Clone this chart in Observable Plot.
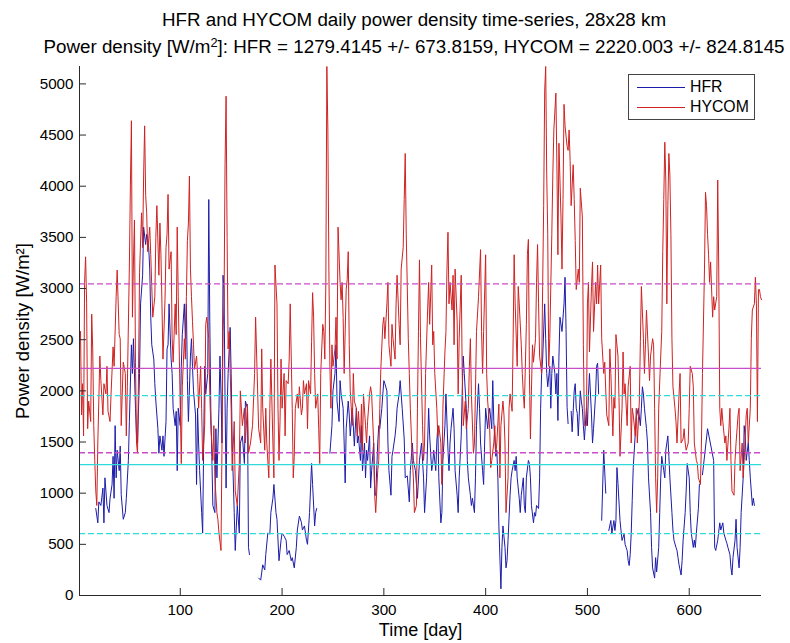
<!DOCTYPE html>
<html>
<head>
<meta charset="utf-8">
<script src="https://cdn.jsdelivr.net/npm/d3@7"></script>
<script src="https://cdn.jsdelivr.net/npm/@observablehq/plot@0.6"></script>
<style>
  html, body { margin: 0; padding: 0; background: #fff; }
  #wrap { position: relative; width: 790px; height: 643px; background: #fff;
          font-family: "Liberation Sans", Arial, Helvetica, sans-serif; color: #000; overflow: hidden; }
  #title { position: absolute; top: 6px; left: 38px; width: 752px; text-align: center;
           font-size: 18.8px; line-height: 27px; white-space: nowrap; }
  #title .sup { font-size: 0.68em; vertical-align: 0.5em; line-height: 0; }
  #chart { position: absolute; top: 61px; left: 0; }
  #legend { position: absolute; left: 628px; top: 74px; width: 125px; height: 44px;
            border: 1px solid #444; background: #fff; font-size: 15.8px; line-height: 1; }
  #legend .sw { position: absolute; left: 8px; width: 48px; height: 0; }
  #legend .lab { position: absolute; left: 61px; white-space: nowrap; }
</style>
</head>
<body>
<div id="wrap">
  <div id="title">HFR and HYCOM daily power density time-series, 28x28 km<br>Power density [W/m<span class="sup">2</span>]: HFR = 1279.4145 +/- 673.8159, HYCOM = 2220.003 +/- 824.8145</div>
  <div id="chart"></div>
  <div id="legend"></div>
</div>
<script>
// ---- data ----
const hfrDays = [17,19,20,22,24,25,26,28,30,31,33,34,35,36,37,38,40,41,42,44,46,47,49,50,52,53,54,56,57,58,60,61,63,64,66,67,69,70,71,72,74,75,76,78,79,80,82,83,84,86,87,88,89,91,92,93,95,96,97,98,100,101,102,104,105,106,107,108,110,111,112,113,115,116,117,118,119,121,122,123,124,125,127,128,129,130,131,132,134,135,136,138,139,140,141,142,143,144,145,146,147,149,150,151,153,154,156,158,159,161,163,164,166,167,168,
  172,
  177,179,181,183,184,186,188,189,191,192,194,195,197,199,200,202,204,205,207,209,210,212,214,215,217,219,220,222,224,225,227,229,230,232,233,234,
  240,
  247,249,250,252,253,254,256,257,258,260,261,262,263,265,266,267,269,270,271,273,274,275,277,278,279,281,282,283,284,286,287,288,290,291,292,294,295,296,298,299,300,301,303,304,305,307,308,309,311,312,313,315,316,317,318,320,321,323,325,326,328,329,331,333,335,337,339,340,342,344,345,347,348,349,351,352,353,354,356,357,358,360,361,363,364,365,366,368,369,370,372,373,374,376,377,378,379,381,382,383,385,386,387,389,390,391,393,394,395,397,398,399,400,402,403,404,406,407,408,410,411,412,413,415,416,417,419,420,421,422,424,425,426,428,429,430,431,433,434,435,437,438,439,440,442,443,444,445,447,448,449,450,452,453,454,455,456,458,459,460,461,463,464,465,466,468,469,470,471,472,473,475,477,478,479,480,481,
  482,
  484,485,487,488,489,490,491,493,494,495,496,497,499,500,501,502,504,505,506,508,509,510,511,
  512,
  514,516,518,
  519,
  521,523,524,526,527,528,529,530,532,533,534,536,537,538,539,540,541,542,543,544,545,547,548,550,552,553,554,555,556,558,559,560,562,563,564,566,567,568,570,571,572,573,575,576,577,579,580,581,583,584,585,587,588,589,590,592,593,594,596,597,598,600,601,602,604,605,606,607,609,610,611,613,
  618,
  624,625,626,628,630,631,633,634,636,637,638,640,641,642,643,645,646,647,649,650,651,653,654,655,656,658,659,660,662,663,664,666,667];
const hfrPower = [850,710,915,880,1050,710,1150,880,810,950,1085,1360,950,1660,1150,1420,1220,1460,985,745,810,950,1320,1700,2450,2170,2510,1830,1560,1490,2170,2850,3130,3600,3430,3530,3400,3190,2720,2450,2310,2070,1900,1630,1390,1560,1420,1560,1360,1700,2410,2450,2850,2310,2170,1830,1660,1800,1220,1830,1660,2240,2550,2850,2510,2850,2100,1700,2340,2510,2240,2000,1765,1085,1830,1490,1220,810,610,1490,2240,1970,2170,3870,2680,1830,1360,880,810,1630,1150,1830,2340,1970,1490,3130,2990,1900,1050,1830,2170,2620,2170,1490,810,440,880,610,1490,1560,1290,1900,1830,470,400,
  null,
  170,150,300,250,400,610,600,810,950,1085,810,745,340,540,610,580,540,400,440,340,370,270,470,640,775,715,640,680,540,500,810,1290,1085,680,810,850,
  null,
  1390,1660,2000,2170,2450,1900,1700,2100,1970,1830,1490,1100,1630,1900,1765,1560,1830,1660,1460,1830,1490,1560,1320,1660,1220,1490,1150,1420,1320,1560,1050,1220,1490,980,980,1490,1660,1630,1830,1970,2100,2070,2000,1490,1220,980,1360,1420,1560,1660,1830,1970,2100,1970,1830,1530,1150,1170,915,1220,1490,1320,1220,950,1320,1490,1150,810,1150,1830,1560,1220,1290,1420,1220,1490,1660,1150,710,810,1320,1660,1970,1420,1220,1490,1630,1830,1630,1220,980,810,1150,1560,2000,2340,2170,1830,1320,1150,980,880,950,810,1150,1660,2070,1830,1490,1220,1085,1490,1830,1630,1765,1830,1630,2100,1700,1360,1420,1150,680,65,470,680,470,270,340,540,980,1150,1220,1320,1220,1360,1150,950,810,980,1150,880,810,1150,1320,1290,1150,880,710,810,775,880,850,1150,1830,2170,2310,2850,2510,2170,2040,2240,1830,2170,2340,2170,1970,2170,1710,2330,2720,2580,2850,3110,2600,1840,1680,
  null,
  1800,1600,2000,2070,1830,1780,1560,2000,1900,1830,1660,1520,1830,1660,1970,2170,1765,1490,1630,1970,2240,2270,1970,
  null,
  735,1420,1000,
  null,
  635,733,605,733,635,733,1250,1095,733,635,538,600,500,470,440,342,293,400,605,929,1251,1580,1740,1830,1660,1830,2040,1970,1830,1630,1490,1150,810,470,270,170,370,230,470,810,1150,1360,1220,1150,1420,1560,1360,1150,810,640,540,470,440,370,300,200,340,540,810,1020,1290,1150,810,610,470,540,470,610,850,1085,
  null,
  1180,1630,1320,470,440,540,710,640,710,610,540,510,470,400,270,200,370,540,745,470,270,470,810,1150,1660,1560,1320,1490,1320,1150,880,950,880];

const hycomDays = [2,3,4,5,6,7,8,9,10,12,13,14,15,16,17,18,19,21,22,24,25,27,28,29,31,32,34,35,37,38,40,41,42,44,46,47,48,50,51,52,53,54,55,56,57,58,59,60,62,63,64,65,66,67,68,70,71,72,73,75,76,77,79,80,81,82,83,85,86,87,88,89,91,92,93,95,96,97,98,99,100,101,102,104,105,106,107,108,109,110,111,112,113,114,116,117,118,120,121,122,124,125,126,128,129,130,132,133,134,136,137,138,140,141,142,143,144,145,146,147,148,150,151,153,154,156,158,159,161,163,164,166,167,169,171,173,174,176,177,179,180,181,183,184,185,187,188,189,191,192,193,195,196,197,198,199,200,202,203,204,206,207,208,210,211,212,213,215,216,217,219,220,221,222,224,225,226,228,229,230,231,232,233,235,236,237,238,240,241,242,243,244,245,246,247,248,249,250,252,253,254,255,257,258,259,260,261,263,264,265,266,267,269,270,271,273,274,275,277,278,279,280,282,283,284,286,287,288,290,291,292,294,295,296,297,299,300,301,303,304,305,307,308,309,311,312,313,315,316,317,319,320,321,322,324,325,326,328,329,330,332,333,334,335,336,338,339,340,341,343,344,345,347,348,349,350,352,353,354,356,357,358,360,361,362,363,364,365,367,368,369,370,372,373,374,376,377,378,380,381,383,384,385,386,388,389,390,391,393,395,396,397,398,400,401,402,404,405,406,408,409,410,411,413,414,415,417,418,419,420,422,423,424,426,427,428,429,431,432,433,435,436,437,438,440,441,442,443,444,445,446,447,449,450,451,452,453,455,456,457,458,459,460,461,462,463,465,466,467,469,470,471,472,474,475,476,477,478,480,481,482,483,484,486,487,488,489,491,492,493,495,496,497,499,500,501,502,504,505,506,508,509,510,511,513,514,516,517,518,519,521,522,523,525,526,527,528,530,531,532,534,535,536,537,539,540,542,543,544,545,547,548,549,551,552,553,555,556,557,558,560,561,562,564,565,566,567,568,569,570,572,573,574,575,576,577,578,579,580,581,582,583,584,586,587,588,590,591,592,594,595,596,597,599,600,601,603,604,605,607,608,609,611,612,613,615,616,617,618,619,620,621,623,624,625,627,628,629,630,631,632,633,635,636,637,639,640,641,642,644,645,646,648,649,650,652,653,654,656,657,658,660,661,662,664,665,666,667,668,669,670,671];
const hycomPower = [2580,1765,2070,1560,3060,3310,2850,1630,1900,1700,2750,2410,1660,1320,1020,880,1490,2340,2100,1765,2070,1970,2240,1800,1700,1970,2430,2240,2920,3180,2550,2510,1660,2280,2170,1560,2040,3230,4010,4640,2720,3260,3670,2280,1490,1390,2170,3160,3740,3400,4110,4590,3910,3740,3360,3600,3330,3020,2720,2920,3500,3810,3130,3640,3330,2850,2310,2890,3400,3530,3920,3190,3360,2510,2280,2850,2550,3600,2920,2380,1830,1290,2040,2510,2310,2920,3470,3640,4100,3190,2920,2680,2450,2210,2340,2170,1830,2240,1830,1320,1660,2650,2720,2510,1970,1660,1320,1660,1150,810,740,610,440,1490,2580,2850,4210,4880,3500,2410,2580,1830,1220,1700,1020,880,1290,2000,1660,1830,1490,1870,1390,1490,1660,2170,2720,2000,1630,1490,2410,1830,1420,1830,1490,1150,1830,2310,1490,1150,3230,2850,1830,1320,1700,2310,1830,2170,1560,2100,2070,2310,2850,1830,1150,1360,1830,1970,1830,2040,1765,1830,2100,1970,2070,1630,2100,1970,2480,2960,2720,2170,1830,1970,1630,1290,2170,2650,2580,2310,3060,5170,4550,3190,2240,1830,2450,2240,2410,2720,2310,3600,3060,2890,3060,2720,2170,2990,3090,3360,2450,2000,1660,2170,1900,1830,1560,1800,1490,1870,1420,1970,1660,1490,1700,1970,2040,1970,1490,980,810,1220,1320,1830,2210,2650,2720,2510,2850,3060,2450,2240,2650,2510,2310,2850,3130,2650,2450,3190,3400,3870,4320,3530,2510,2170,1830,1320,1150,810,880,1830,2580,3280,2510,1660,1320,1490,2170,2790,3060,2650,3230,2450,2580,2170,1830,1560,1660,1490,1085,1830,2380,2580,3190,3550,2850,3060,2790,3130,2450,3190,2680,1970,2510,3130,2170,1660,1900,1630,1830,2240,2510,1970,1390,1490,2000,2580,2920,3380,2580,2170,2580,3330,2170,1900,1630,1250,1320,1490,1660,1390,1490,1870,1150,1660,1900,1765,1490,810,1150,1830,1970,1800,2510,3330,2850,2240,3020,2850,2450,2170,1970,1830,2650,3330,3480,2170,1530,2000,2450,2280,2510,3060,3430,2850,2340,2170,3020,3810,4930,5170,4110,3530,2240,2510,3530,4110,4550,4910,4210,3330,4420,3700,3190,3870,4800,4590,4390,4350,4550,4250,3810,4210,3870,3470,2990,3190,3060,3980,3700,2450,1660,1660,2850,3060,2380,3020,3260,2580,3060,2850,3230,2850,3230,2510,2170,2280,2000,1765,1660,2410,2170,1560,1935,1830,2550,2340,1935,1360,1830,2380,1970,2070,1660,2040,2240,1490,1830,1765,1560,1830,1490,1900,2480,3020,2510,2170,2450,2790,2340,2100,2340,2510,2450,1830,1150,810,1150,1830,2340,2580,3360,3870,4430,4050,2850,3810,4320,4110,3530,2510,2040,1830,1700,1490,1970,2170,1490,1530,1630,1490,1420,1490,1830,2240,2170,2040,1490,1320,1290,1150,1085,1490,2170,3190,3940,3810,3530,3330,3060,3260,2720,2920,2790,2920,4060,3190,1830,1660,1830,1700,1490,1560,1320,1630,1830,1320,1020,980,1320,1490,1765,1830,1220,1490,1150,1320,1765,1830,1490,1830,2510,2790,2850,3110,2850,1700,2990,2990,2920,2890];

const hfrMean = 1279.4145, hfrStd = 673.8159;
const hycomMean = 2220.003, hycomStd = 824.8145;

const xTicks = [100, 200, 300, 400, 500, 600];
const yTicks = [0, 500, 1000, 1500, 2000, 2500, 3000, 3500, 4000, 4500, 5000];
const xDomain = [1, 671];
const yDomain = [0, 5170];
const seriesNames = ["HFR", "HYCOM"];
const xLabel = "Time [day]";
const yLabel = "Power density [W/m²]";

// ---- styles ----
const HFR_COLOR = "#1c1caa";
const HYCOM_COLOR = "#cf2222";
const CYAN = "#2fdada";
const MAGENTA = "#c94cc9";
const AXIS = "#2a2a2a";

const hfrData = hfrDays.map((d, i) => ({day: d, power: hfrPower[i]}));
const hycomData = hycomDays.map((d, i) => ({day: d, power: hycomPower[i]}));

const W = 790, H = 582, mL = 79, mR = 29, mT = 5, mB = 48;
const innerH = H - mT - mB, innerW = W - mL - mR;
const TICK = 7;

const chart = Plot.plot({
  width: W, height: H,
  marginLeft: mL, marginRight: mR, marginTop: mT, marginBottom: mB,
  style: {fontFamily: '"Liberation Sans", Arial, Helvetica, sans-serif', fontSize: "15px", background: "#fff", color: "#000"},
  x: {domain: xDomain},
  y: {domain: yDomain},
  marks: [
    Plot.line(hfrData, {x: "day", y: "power", stroke: HFR_COLOR, strokeWidth: 1}),
    Plot.line(hycomData, {x: "day", y: "power", stroke: HYCOM_COLOR, strokeWidth: 1}),
    Plot.ruleY([hfrMean], {stroke: CYAN, strokeWidth: 1.3}),
    Plot.ruleY([hfrMean - hfrStd, hfrMean + hfrStd], {stroke: CYAN, strokeWidth: 1.3, strokeDasharray: "6,3"}),
    Plot.ruleY([hycomMean], {stroke: MAGENTA, strokeWidth: 1.3}),
    Plot.ruleY([hycomMean - hycomStd, hycomMean + hycomStd], {stroke: MAGENTA, strokeWidth: 1.3, strokeDasharray: "6,3"}),
    Plot.axisX({ticks: xTicks, tickSize: 0, tickPadding: 9, tickFormat: "d", label: null, fontSize: 15.2}),
    Plot.axisY({ticks: yTicks, tickSize: 0, tickPadding: 6, tickFormat: "d", label: null, fontSize: 15.2}),
    Plot.ruleX(xTicks, {insetTop: innerH - TICK, stroke: AXIS}),
    Plot.ruleY(yTicks, {insetRight: innerW - TICK, stroke: AXIS}),
    Plot.ruleX([xDomain[0]], {stroke: AXIS}),
    Plot.ruleY([yDomain[0]], {stroke: AXIS}),
    Plot.text([yLabel], {text: d => d, x: () => xDomain[0], y: () => (yDomain[0] + yDomain[1]) / 2,
      dx: -56, rotate: -90, fontSize: 18.5, lineAnchor: "middle"}),
    Plot.text([xLabel], {text: d => d, frameAnchor: "bottom", dy: 35, fontSize: 18, textAnchor: "middle", lineAnchor: "middle"})
  ]
});
document.getElementById("chart").appendChild(chart);

// make sure both axis labels are centred on their anchor point
d3.select(chart).selectAll("text")
  .filter(function () { return this.textContent === yLabel || this.textContent === xLabel; })
  .attr("text-anchor", "middle")
  .style("text-anchor", "middle");

// legend
const legend = document.getElementById("legend");
[[seriesNames[0], HFR_COLOR, 11.5, 4.0], [seriesNames[1], HYCOM_COLOR, 31.5, 24.0]].forEach(([name, color, ly, ty]) => {
  const sw = document.createElement("div");
  sw.className = "sw";
  sw.style.top = ly + "px";
  sw.style.borderTop = "1px solid " + color;
  legend.appendChild(sw);
  const lab = document.createElement("div");
  lab.className = "lab";
  lab.style.top = ty + "px";
  lab.textContent = name;
  legend.appendChild(lab);
});
</script>
</body>
</html>
